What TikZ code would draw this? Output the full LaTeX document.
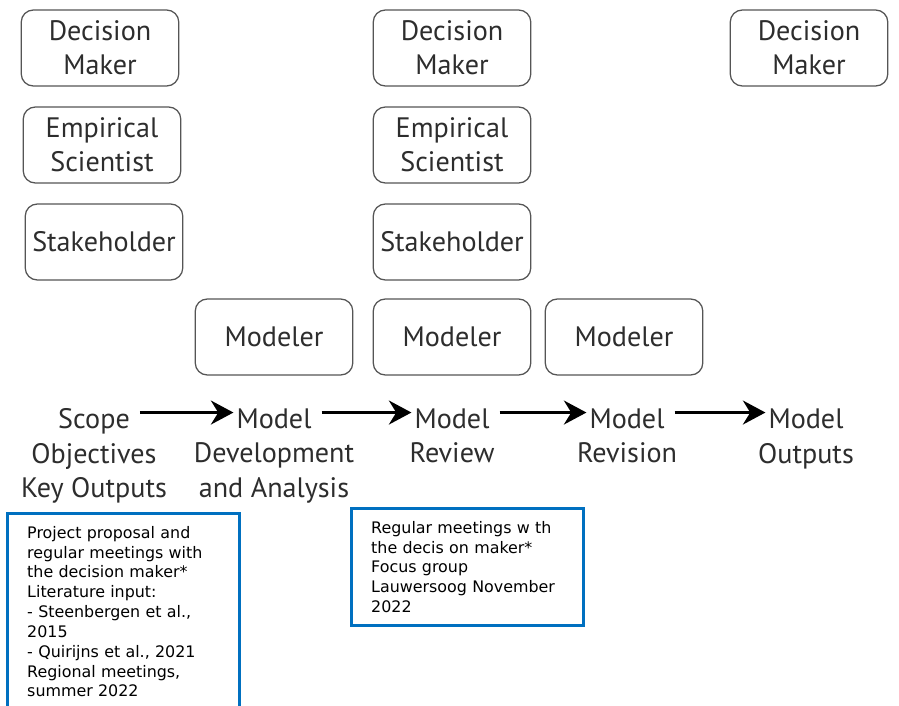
\documentclass[tikz,border=0pt]{standalone}
\usepackage{xcolor}
\usepackage{fontspec}
\setmainfont{PT Sans}
\newfontfamily\notefont{DejaVu Sans}
\usetikzlibrary{arrows.meta,positioning}

\begin{document}
\begin{tikzpicture}[x=0.025cm,y=-0.025cm]
    \definecolor{mygray}{RGB}{85,85,85}
    \definecolor{mytext}{RGB}{45,45,45}
    \definecolor{myblue}{RGB}{0,112,192}

    \tikzstyle{actor}=[rectangle,rounded corners=8.5pt,draw=mygray,line width=0.9pt,minimum width=112pt,minimum height=54pt,align=center,text=mytext,font=\fontsize{20}{24}\selectfont]  % role boxes
    \tikzstyle{stage}=[text=mytext,font=\fontsize{20}{24.8}\selectfont,inner sep=2pt]  % first line of a stage
    \tikzstyle{stagesub}=[stage,align=center]  % rest of a stage
    \tikzstyle{note}=[rectangle,draw=myblue,line width=2.2pt,inner xsep=14pt,inner ysep=9pt,text width=137pt,align=left,anchor=north west,font=\notefont\fontsize{11.3}{14.1}\selectfont]
    \tikzstyle{flow}=[line width=2.2pt,shorten <=5pt,-{Stealth[length=16pt,width=17pt]}]

    \clip (0,0) rectangle (899,705);

    % roles
    \node[actor](dm1) at (100,48){Decision\\Maker};
    \node[actor](es1) at (102,145){Empirical\\Scientist};
    \node[actor](sh1) at (104,242){Stakeholder};
    \node[actor](dm2) at (452,48){Decision\\Maker};
    \node[actor](es2) at (452,145){Empirical\\Scientist};
    \node[actor](sh2) at (452,242){Stakeholder};
    \node[actor](dm3) at (809,48){Decision\\Maker};
    \node[actor](mod1) at (274,337){Modeler};
    \node[actor](mod2) at (452,337){Modeler};
    \node[actor](mod3) at (624,337){Modeler};

    % stages
    \node[stage,anchor=base](s0) at (94,428){Scope};
    \node[stagesub,below=8.5pt of s0.base](s0b){Objectives\\Key Outputs};
    \node[stage,anchor=base](s1) at (274,428){Model};
    \node[stagesub,below=8.5pt of s1.base](s1b){Development\\and Analysis};
    \node[stage,anchor=base](s2) at (452,428){Model};
    \node[stagesub,below=8.5pt of s2.base](s2b){Review};
    \node[stage,anchor=base](s3) at (627,428){Model};
    \node[stagesub,below=8.5pt of s3.base](s3b){Revision};
    \node[stage,anchor=base](s4) at (806,428){Model};
    \node[stagesub,below=8.5pt of s4.base](s4b){Outputs};

    % arrows
    \draw[flow]([yshift=11pt]s0.base east)--([yshift=11pt]s1.base west);
    \draw[flow]([yshift=11pt]s1.base east)--([yshift=11pt]s2.base west);
    \draw[flow]([yshift=11pt]s2.base east)--([yshift=11pt]s3.base west);
    \draw[flow]([yshift=11pt]s3.base east)--([yshift=11pt]s4.base west);

    % notes
    \node[note](n1) at (6,512){Project proposal and\\regular meetings with\\the decision maker*\\Literature input:\\- Steenbergen et al.,\\2015\\- Quirijns et al., 2021\\Regional meetings,\\summer 2022};
    \node[note](n2) at (350,507){Regular meetings w th\\the decis on maker*\\Focus group\\Lauwersoog November\\2022};
\end{tikzpicture}
\end{document}
